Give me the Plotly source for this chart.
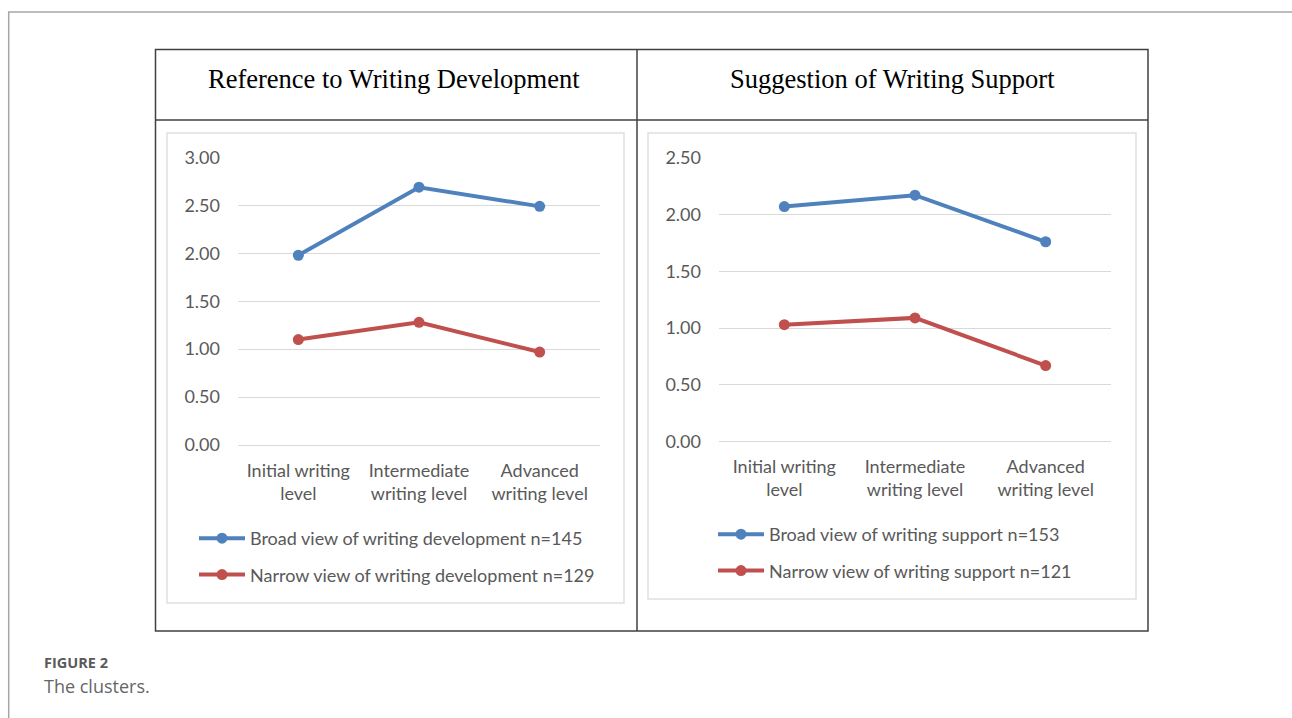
import plotly.graph_objects as go

W, H = 1292, 718

# Category labels shared by both panels
levels = ["Initial writing<br>level", "Intermediate<br>writing level", "Advanced<br>writing level"]

# Panel 1: reference to writing development (mean scores)
dev_broad = [1.98, 2.69, 2.49]
dev_narrow = [1.10, 1.28, 0.97]
dev_names = ["Broad view of writing development n=145", "Narrow view of writing development n=129"]
dev_ticks = [0.0, 0.5, 1.0, 1.5, 2.0, 2.5, 3.0]

# Panel 2: suggestion of writing support (mean scores)
sup_broad = [2.07, 2.17, 1.76]
sup_narrow = [1.03, 1.09, 0.67]
sup_names = ["Broad view of writing support n=153", "Narrow view of writing support n=121"]
sup_ticks = [0.0, 0.5, 1.0, 1.5, 2.0, 2.5]

headings = ["Reference to Writing Development", "Suggestion of Writing Support"]

BLUE = "#4F81BD"
RED = "#C0504D"
TICK_GRAY = "#595959"
GRID = "#D9D9D9"
FONT = "Lato"


def px(x):
    return x / W


def py(y):
    return 1 - y / H


fig = go.Figure()

series = [
    (dev_broad, dev_names[0], BLUE, "x", "y", "legend", "a1"),
    (dev_narrow, dev_names[1], RED, "x", "y", "legend", "a2"),
    (sup_broad, sup_names[0], BLUE, "x2", "y2", "legend2", "b1"),
    (sup_narrow, sup_names[1], RED, "x2", "y2", "legend2", "b2"),
]
for vals, name, color, xa, ya, lg, grp in series:
    fig.add_trace(go.Scatter(
        x=levels, y=vals, name=name, mode="lines+markers",
        line=dict(color=color, width=4),
        marker=dict(color=color, size=11),
        xaxis=xa, yaxis=ya, legend=lg, legendgroup=grp,
        hoverinfo="skip",
    ))

axis_font = dict(family=FONT, size=18, color=TICK_GRAY)

xcommon = dict(type="category", range=[-0.5, 2.5], showgrid=False, zeroline=False,
               showline=False, ticks="", tickfont=axis_font, fixedrange=True,
               automargin=False)
ycommon = dict(showgrid=True, gridcolor=GRID, gridwidth=1, zeroline=True,
               zerolinecolor=GRID, zerolinewidth=1, showline=False, ticks="",
               tickformat=".2f", tickfont=axis_font, ticklabelstandoff=17,
               fixedrange=True, automargin=False)

legend_common = dict(xanchor="left", yanchor="top",
                     font=dict(family=FONT, size=18, color=TICK_GRAY),
                     traceorder="grouped", tracegroupgap=10, itemwidth=46,
                     bgcolor="rgba(0,0,0,0)")

fig.update_layout(
    width=W, height=H,
    margin=dict(l=0, r=0, t=0, b=0, autoexpand=False),
    paper_bgcolor="white", plot_bgcolor="white",
    xaxis=dict(domain=[px(238), px(600)], anchor="y", ticklabelstandoff=13, **xcommon),
    yaxis=dict(domain=[py(445), py(157.5)], anchor="x", range=[0, 3],
               tickvals=dev_ticks, **ycommon),
    xaxis2=dict(domain=[px(719), px(1111)], anchor="y2", ticklabelstandoff=12, **xcommon),
    yaxis2=dict(domain=[py(441.7), py(157.7)], anchor="x2", range=[0, 2.5],
                tickvals=sup_ticks, **ycommon),
    legend=dict(x=px(194), y=py(520), **legend_common),
    legend2=dict(x=px(713), y=py(516), **legend_common),
    showlegend=True,
)

shapes = []
# page frame lines
shapes.append(dict(type="line", xref="paper", yref="paper", x0=px(8), x1=1, y0=py(12), y1=py(12),
                   line=dict(color="#A6A6A6", width=1.5)))
shapes.append(dict(type="line", xref="paper", yref="paper", x0=px(8.7), x1=px(8.7), y0=py(12), y1=0,
                   line=dict(color="#A6A6A6", width=1.5)))
# table borders
tbl = dict(color="#404040", width=1.5)
shapes.append(dict(type="rect", xref="paper", yref="paper", x0=px(155.5), x1=px(1148), y0=py(631), y1=py(49.5),
                   line=tbl))
shapes.append(dict(type="line", xref="paper", yref="paper", x0=px(155.5), x1=px(1148), y0=py(120), y1=py(120),
                   line=tbl))
shapes.append(dict(type="line", xref="paper", yref="paper", x0=px(637), x1=px(637), y0=py(631), y1=py(49.5),
                   line=tbl))
# chart area frames
frame = dict(color="#E0E0E0", width=1.5)
shapes.append(dict(type="rect", xref="paper", yref="paper", x0=px(167), x1=px(624), y0=py(603), y1=py(133),
                   line=frame, layer="below"))
shapes.append(dict(type="rect", xref="paper", yref="paper", x0=px(648), x1=px(1136), y0=py(599), y1=py(133),
                   line=frame, layer="below"))
fig.update_layout(shapes=shapes)

annotations = [
    dict(text=headings[0], x=px(394.5), y=py(79), xref="paper", yref="paper", showarrow=False,
         xanchor="center", yanchor="middle",
         font=dict(family="Liberation Serif", size=26.5, color="#000000")),
    dict(text=headings[1], x=px(892.5), y=py(79), xref="paper", yref="paper", showarrow=False,
         xanchor="center", yanchor="middle",
         font=dict(family="Liberation Serif", size=26.5, color="#000000")),
    dict(text="<b>FIGURE 2</b>", x=px(42), y=py(662), xref="paper", yref="paper", showarrow=False,
         xanchor="left", yanchor="middle",
         font=dict(family="Open Sans", size=14.5, color="#5A5A5A")),
    dict(text="The clusters.", x=px(42), y=py(686), xref="paper", yref="paper", showarrow=False,
         xanchor="left", yanchor="middle",
         font=dict(family="Open Sans", size=18, color="#666666")),
]
fig.update_layout(annotations=annotations)

fig.write_html("out.html", config={"displayModeBar": False})
